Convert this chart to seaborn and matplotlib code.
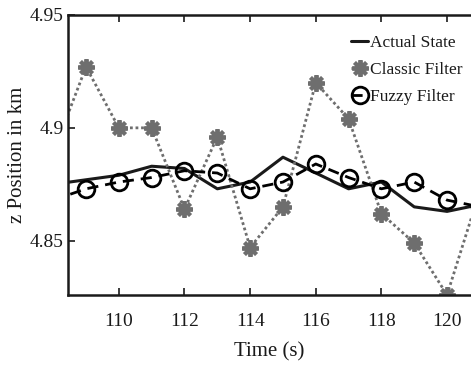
import numpy as np
import pandas as pd
import matplotlib
matplotlib.use("Agg")
import matplotlib.pyplot as plt
import seaborn as sns

# ---- data ----
time = [108, 109, 110, 111, 112, 113, 114, 115, 116, 117, 118, 119, 120, 121]
actual_state = [4.875, 4.877, 4.879, 4.883, 4.882, 4.873, 4.876, 4.887, 4.880, 4.873, 4.876, 4.865, 4.863, 4.866]
classic_filter = [4.889, 4.927, 4.900, 4.900, 4.864, 4.896, 4.847, 4.865, 4.920, 4.904, 4.862, 4.849, 4.826, 4.872]
fuzzy_filter = [4.868, 4.873, 4.876, 4.878, 4.881, 4.880, 4.873, 4.876, 4.884, 4.878, 4.873, 4.876, 4.868, 4.865]

xticks = [110, 112, 114, 116, 118, 120]
yticks = [4.85, 4.9, 4.95]
ytick_labels = ["4.85", "4.9", "4.95"]

sns.set_theme(style="white")
plt.rcParams["font.family"] = ["Liberation Serif", "DejaVu Serif"]

fig = plt.figure(figsize=(4.71, 3.65), dpi=100)
ax = fig.add_axes([0.144, 0.192, 0.856, 0.767])

sns.lineplot(x=time, y=actual_state, ax=ax, color="#1a1a1a", lw=2.2,
             label="Actual State")
sns.lineplot(x=time, y=classic_filter, ax=ax, color="#6e6e6e", lw=2.0,
             ls=(0, (1, 1)), marker=(8, 2, 0), markersize=12, markeredgewidth=2.8,
             markeredgecolor="#6e6e6e", markerfacecolor="#6e6e6e",
             label="Classic Filter")
sns.lineplot(x=time, y=fuzzy_filter, ax=ax, color="black", lw=2.0,
             ls=(0, (4, 2.5)), marker="o", markersize=12, markeredgewidth=2.0,
             markerfacecolor="none", markeredgecolor="black",
             label="Fuzzy Filter")

ax.set_xlim(108.445, 120.73)
ax.set_ylim(4.826, 4.95)
ax.set_xticks(xticks)
ax.set_xticklabels([str(v) for v in xticks])
ax.set_yticks(yticks)
ax.set_yticklabels(ytick_labels)

ax.tick_params(axis="both", direction="in", length=5, width=1.2, colors="#1a1a1a",
               labelsize=14, labelcolor="#1a1a1a")
ax.tick_params(axis="x", top=True, bottom=True, pad=13)
ax.tick_params(axis="y", left=True, right=False, pad=3)

for side in ["left", "bottom", "top"]:
    ax.spines[side].set_visible(True)
    ax.spines[side].set_color("#1a1a1a")
    ax.spines[side].set_linewidth(1.8)
ax.spines["right"].set_visible(False)

ax.set_xlabel("Time (s)", fontsize=15, color="#1a1a1a", labelpad=9)
ax.set_ylabel("z Position in km", fontsize=15, color="#1a1a1a", labelpad=2)

leg = ax.legend(loc="upper right", bbox_to_anchor=(1.005, 0.965), frameon=False,
                fontsize=12.5, handlelength=1.0, handletextpad=0.1,
                labelspacing=0.62, borderaxespad=0.2)
for t in leg.get_texts():
    t.set_color("#1a1a1a")

fig.savefig("out.png", dpi=100)
